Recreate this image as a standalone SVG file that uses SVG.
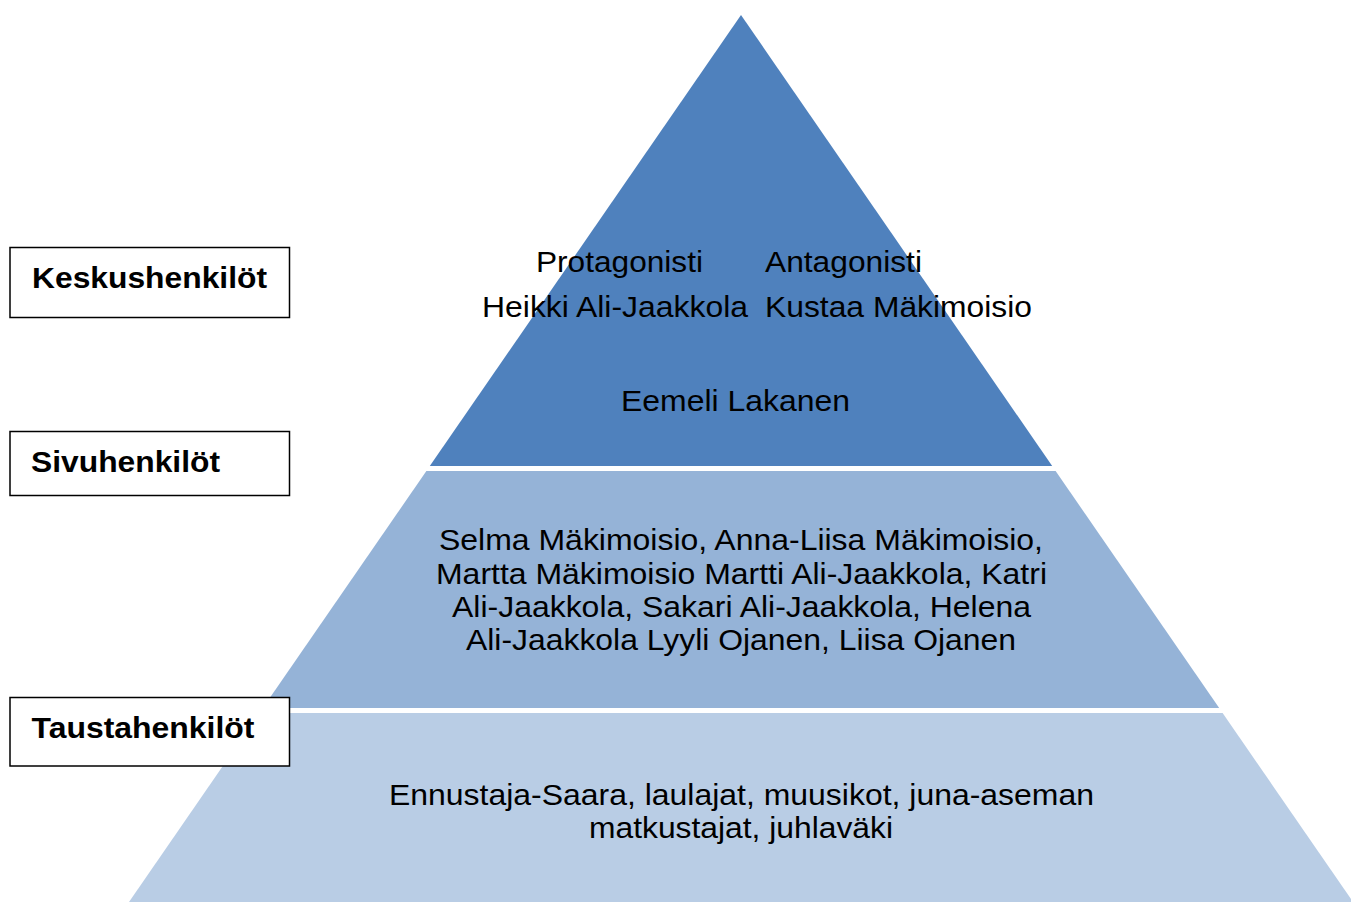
<svg xmlns="http://www.w3.org/2000/svg" width="1351" height="902" viewBox="0 0 1351 902">
<style>
.lbl{font-family:"Liberation Sans",Arial,sans-serif;font-weight:bold;font-size:30px;fill:#000}
.txt{font-family:"Liberation Sans",Arial,sans-serif;font-size:29px;fill:#000;text-anchor:middle}
.txtl{font-family:"Liberation Sans",Arial,sans-serif;font-size:29px;fill:#000}
.box{fill:#fff;stroke:#000;stroke-width:1.5}
</style>
<rect width="1351" height="902" fill="#fff"/>
<g id="tier-bottom">
<polygon points="259.4,713 1222.6,713 1353,902 129,902" fill="#B9CDE5"/>
<text class="txt" x="741.5" y="805" textLength="705" lengthAdjust="spacingAndGlyphs">Ennustaja-Saara, laulajat, muusikot, juna-aseman</text>
<text class="txt" x="741" y="838" textLength="304" lengthAdjust="spacingAndGlyphs">matkustajat, juhlaväki</text>
</g>
<g id="tier-middle">
<polygon points="426.4,471 1055.6,471 1219.2,708 262.8,708" fill="#95B3D7"/>
<text class="txt" x="741" y="550" textLength="604" lengthAdjust="spacingAndGlyphs">Selma Mäkimoisio, Anna-Liisa Mäkimoisio,</text>
<text class="txt" x="741.5" y="584" textLength="611" lengthAdjust="spacingAndGlyphs">Martta Mäkimoisio Martti Ali-Jaakkola, Katri</text>
<text class="txt" x="741.5" y="617" textLength="579" lengthAdjust="spacingAndGlyphs">Ali-Jaakkola, Sakari Ali-Jaakkola, Helena</text>
<text class="txt" x="741" y="650" textLength="550" lengthAdjust="spacingAndGlyphs">Ali-Jaakkola Lyyli Ojanen, Liisa Ojanen</text>
</g>
<g id="tier-top">
<polygon points="741,15 1052.2,466 429.8,466" fill="#4F81BD"/>
<text class="txtl" x="536" y="272" textLength="167" lengthAdjust="spacingAndGlyphs">Protagonisti</text>
<text class="txtl" x="765" y="272" textLength="157" lengthAdjust="spacingAndGlyphs">Antagonisti</text>
<text class="txtl" x="482" y="317" textLength="266" lengthAdjust="spacingAndGlyphs">Heikki Ali-Jaakkola</text>
<text class="txtl" x="765" y="317" textLength="267" lengthAdjust="spacingAndGlyphs">Kustaa Mäkimoisio</text>
<text class="txtl" x="621" y="411" textLength="229" lengthAdjust="spacingAndGlyphs">Eemeli Lakanen</text>
</g>
<g id="label-keskus">
<rect class="box" x="10" y="247.5" width="279.5" height="70"/>
<text class="lbl" x="32" y="288" textLength="235" lengthAdjust="spacingAndGlyphs">Keskushenkilöt</text>
</g>
<g id="label-sivu">
<rect class="box" x="10" y="431.5" width="279.5" height="64"/>
<text class="lbl" x="31" y="472" textLength="189" lengthAdjust="spacingAndGlyphs">Sivuhenkilöt</text>
</g>
<g id="label-tausta">
<rect class="box" x="10" y="697.5" width="279.5" height="68.5"/>
<text class="lbl" x="31.5" y="738" textLength="223" lengthAdjust="spacingAndGlyphs">Taustahenkilöt</text>
</g>
<g id="connectors"></g>
</svg>
